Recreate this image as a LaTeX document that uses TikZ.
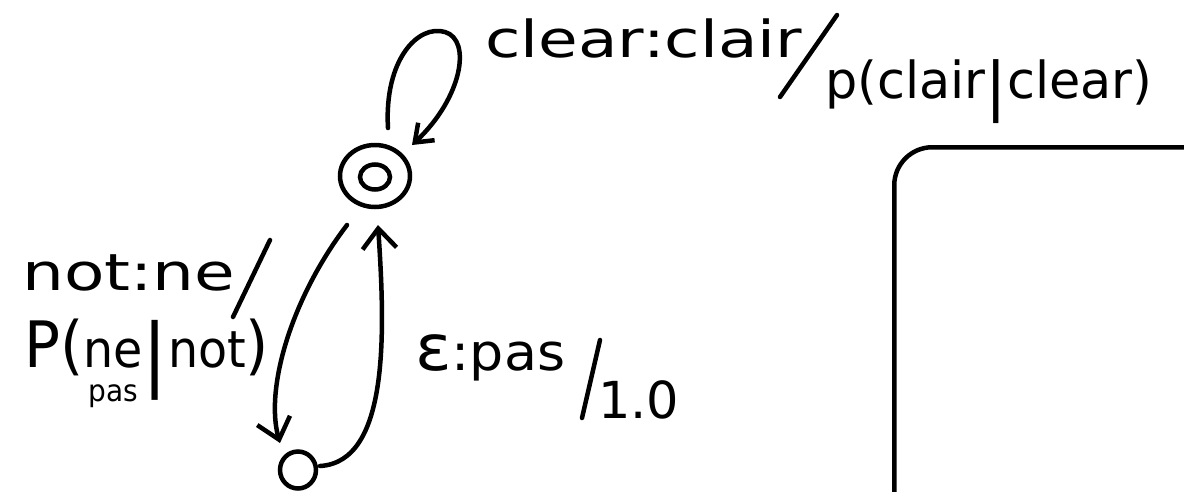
\documentclass[tikz,border=0pt]{standalone}
\usepackage{fontspec}
\setmainfont{DejaVu Sans}
\usetikzlibrary{arrows.meta,shapes.geometric,calc}
\newcommand\hw[2]{\resizebox{#1}{\height}{#2}}
\newcommand\stk[2]{\begin{tabular}[t]{@{}c@{}}#1\\[-22pt]#2\end{tabular}}
\newcommand\bigf[1]{{\fontsize{64}{66}\selectfont #1}}
\begin{document}
\begin{tikzpicture}[x=1pt,y=-1pt,line width=4.5pt,line cap=round,
  lbl/.style={inner sep=0pt,anchor=base west,font=\fontsize{51}{56}\selectfont},
  stroke/.style={line width=4.5pt},
  barb/.style={-{Straight Barb[length=20pt,width=34pt]}},
  loopbarb/.style={-{Straight Barb[length=16pt,width=24pt]}},
  state/.style={draw,ellipse,inner sep=0pt,line width=4.5pt}]
\useasboundingbox (0,0) rectangle (1184,491);
\fill[white] (0,0) rectangle (1184,491);
\clip (0,0) rectangle (1184,491);

% states
\node[state,minimum width=70pt,minimum height=62pt] (q0) at (375,176) {};
\node[state,minimum width=30pt,minimum height=25pt] (q0in) at (375,177) {};
\node[state,minimum width=36pt,minimum height=37pt] (q1) at (298,470) {};

% free ends of connectors
\coordinate (ls) at (388,128);
\coordinate (le) at (412,145);
\coordinate (as) at (347,225);
\coordinate (ae) at (280,443);
\coordinate (bs) at (320,466);
\coordinate (be) at (378,225);

% connectors
\draw[loopbarb] (ls) .. controls (384,60) and (418,24) .. (445,32)
                     .. controls (472,40) and (462,98) .. (le);
\draw[barb] (as) .. controls (290,300) and (265,390) .. (ae);
\draw[barb] (bs) .. controls (390,462) and (385,330) .. (be);

% labels
\node[lbl] (t1) at (483,57) {\hw{317pt}{clear:clair}};
\coordinate (s1a) at (837,15);
\coordinate (s1b) at (780,97);
\draw[stroke] (s1a) -- (s1b);
\node[lbl] (t2) at (823,98) {\hw{327pt}{p(clair\raisebox{-10pt}{\bigf{|}}clear)}};

\node[lbl] (t3) at (20,290) {\hw{213pt}{not:ne}};
\coordinate (s2a) at (270,240);
\coordinate (s2b) at (233,317);
\draw[stroke] (s2a) -- (s2b);
\node[lbl] (t4) at (22,367) {\hw{245pt}{\bigf{P(}\stk{ne}{\fontsize{30}{30}\selectfont pas}\raisebox{-14pt}{\fontsize{80}{80}\selectfont|}not\bigf{)}}};

\node[lbl] (t5) at (413,370) {\hw{150pt}{\bigf{ε}:pas}};
\coordinate (s3a) at (600,340);
\coordinate (s3b) at (582,418);
\draw[stroke] (s3a) -- (s3b);
\node[lbl] (t6) at (596,418) {1.0};

% box
\node[draw,rounded corners=38pt,line width=4.5pt,minimum width=400pt,minimum height=420pt,anchor=north west,inner sep=0pt] (box) at (892,145) {};
\end{tikzpicture}
\end{document}
